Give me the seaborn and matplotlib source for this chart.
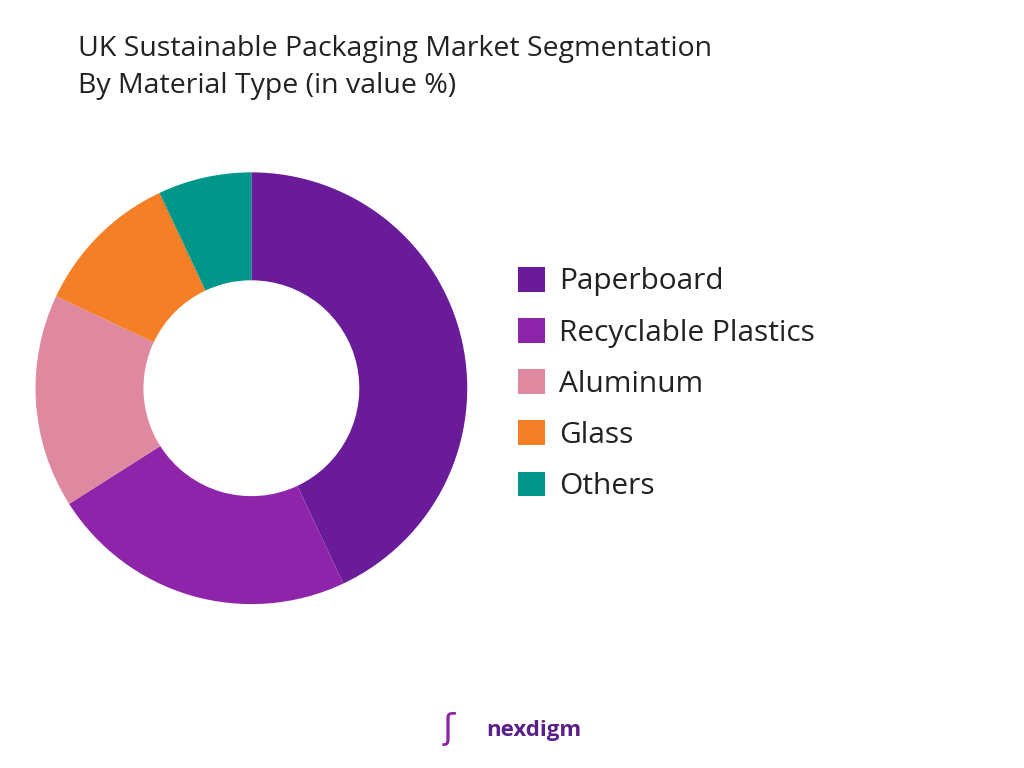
import matplotlib
matplotlib.use("Agg")
import matplotlib.pyplot as plt
import seaborn as sns

sns.set_theme(style="white")
plt.rcParams['font.family'] = ['Open Sans', 'DejaVu Sans']

categories = ["Paperboard", "Recyclable Plastics", "Aluminum", "Glass", "Others"]
values = [43, 23, 16, 11, 7]
colors = ["#6A1B9A", "#8E24AA", "#DE89A0", "#F57F26", "#00968A"]

fig = plt.figure(figsize=(10.24, 7.68), dpi=100)
ax = fig.add_axes([-0.018, 0.143, 0.527, 0.703])
wedges, _ = ax.pie(values, colors=colors, startangle=90, counterclock=False,
                   wedgeprops=dict(width=0.5, edgecolor="none"))
ax.set_xlim(-1.25, 1.25)
ax.set_ylim(-1.25, 1.25)
ax.set_aspect("equal")

fig.text(0.076, 0.955, "UK Sustainable Packaging Market Segmentation\nBy Material Type (in value %)",
         fontsize=20.5, color="#222222", va="top", linespacing=1.45)

leg = fig.legend(wedges, categories, loc="center left", bbox_to_anchor=(0.48, 0.5),
                 frameon=False, fontsize=21.5, handlelength=0.9, handleheight=0.9,
                 labelspacing=0.72, handletextpad=0.45)
for t in leg.get_texts():
    t.set_color("#222222")

fig.text(0.475, 0.042, "nexdigm", fontsize=16, color="#5B1F8A", fontweight="bold")
fig.text(0.432, 0.038, "ʃ", fontsize=26, color="#8E24AA")

fig.savefig("out.png", dpi=100)
